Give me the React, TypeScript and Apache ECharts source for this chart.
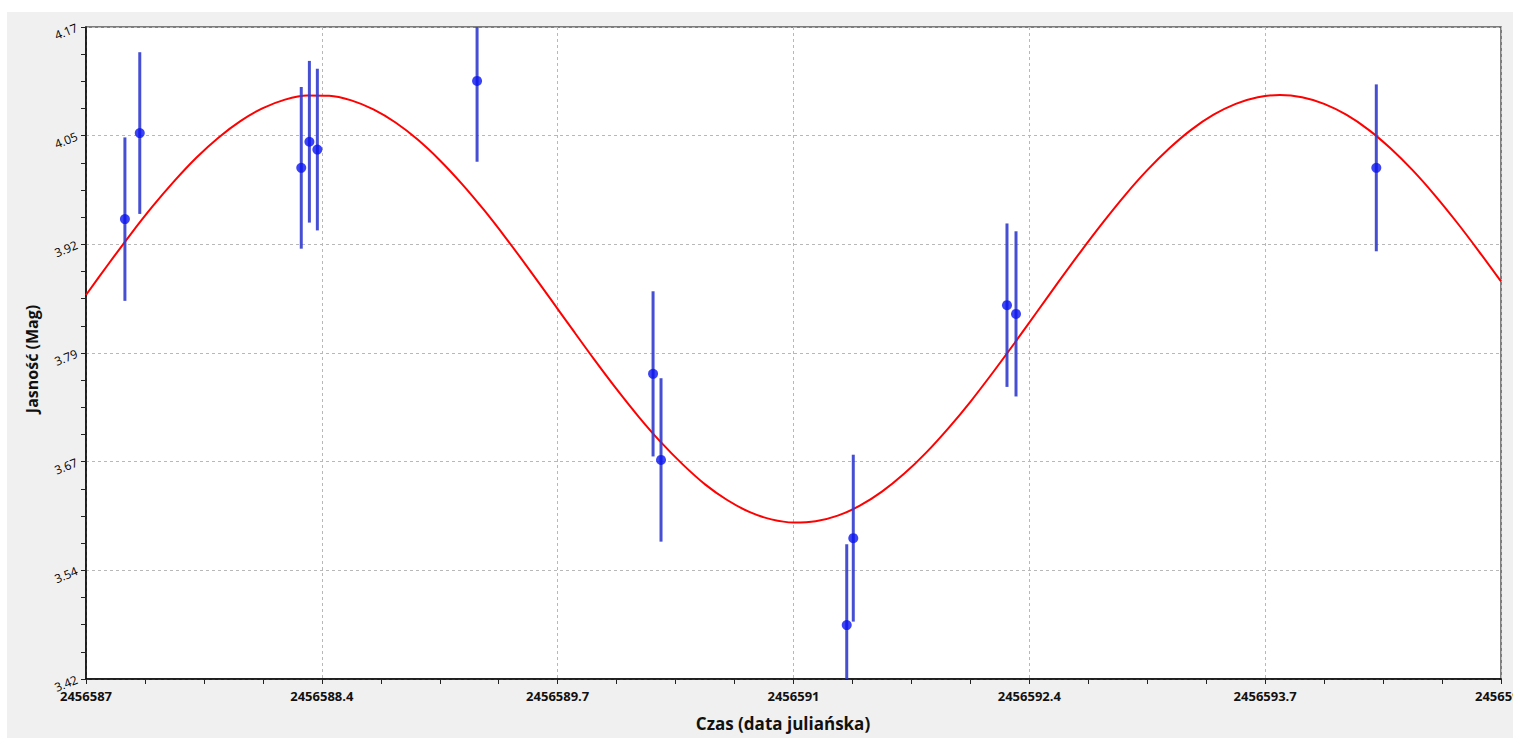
import React, { useEffect, useRef } from "react";
import * as echarts from "echarts";

// Axis ranges and tick labels
const JD_MIN = 2456587;
const JD_MAX = 2456595;
const MAG_MIN = 3.42;
const MAG_MAX = 4.17;
const X_TICK_LABELS = ["2456587", "2456588.4", "2456589.7", "2456591", "2456592.4", "2456593.7", "2456595"];
const Y_TICK_LABELS = ["3.42", "3.54", "3.67", "3.79", "3.92", "4.05", "4.17"];

// Observations (Julian date, magnitude, error)
const OBS_JD = [2456587.22, 2456587.304, 2456588.217, 2456588.263, 2456588.308, 2456589.211, 2456590.206, 2456590.251, 2456591.301, 2456591.338, 2456592.207, 2456592.258, 2456594.295];
const OBS_MAG = [3.949, 4.048, 4.008, 4.038, 4.029, 4.108, 3.771, 3.672, 3.482, 3.582, 3.85, 3.84, 4.008];
const OBS_ERR = [0.094, 0.093, 0.093, 0.093, 0.093, 0.093, 0.095, 0.094, 0.093, 0.096, 0.094, 0.095, 0.096];

// Fitted curve samples
const CURVE_JD = [
  2456587.0, 2456587.125, 2456587.25, 2456587.375, 2456587.5, 2456587.625, 2456587.75, 2456587.875,
  2456588.0, 2456588.125, 2456588.25, 2456588.375, 2456588.5, 2456588.625, 2456588.75, 2456588.875,
  2456589.0, 2456589.125, 2456589.25, 2456589.375, 2456589.5, 2456589.625, 2456589.75, 2456589.875,
  2456590.0, 2456590.125, 2456590.25, 2456590.375, 2456590.5, 2456590.625, 2456590.75, 2456590.875,
  2456591.0, 2456591.125, 2456591.25, 2456591.375, 2456591.5, 2456591.625, 2456591.75, 2456591.875,
  2456592.0, 2456592.125, 2456592.25, 2456592.375, 2456592.5, 2456592.625, 2456592.75, 2456592.875,
  2456593.0, 2456593.125, 2456593.25, 2456593.375, 2456593.5, 2456593.625, 2456593.75, 2456593.875,
  2456594.0, 2456594.125, 2456594.25, 2456594.375, 2456594.5, 2456594.625, 2456594.75, 2456594.875,
  2456595.0,
];
const CURVE_MAG = [
  3.8617, 3.8968, 3.931, 3.9633, 3.993, 4.0199, 4.043, 4.0621,
  4.0767, 4.0865, 4.0913, 4.091, 4.0856, 4.0752, 4.0601, 4.0405,
  4.0168, 3.9896, 3.9595, 3.9269, 3.8927, 3.8575, 3.8221, 3.7871,
  3.7534, 3.7216, 3.6924, 3.6666, 3.6439, 3.6259, 3.6122, 3.6036,
  3.6, 3.6014, 3.6079, 3.6193, 3.6355, 3.656, 3.6804, 3.7083,
  3.7389, 3.772, 3.8065, 3.8419, 3.8773, 3.912, 3.9453, 3.9767,
  4.0053, 4.0305, 4.052, 4.0691, 4.0816, 4.0892, 4.0918, 4.0892,
  4.0816, 4.0691, 4.052, 4.0305, 4.0053, 3.9767, 3.9454, 3.912,
  3.8773,
];

const X_STEPS = X_TICK_LABELS.length - 1;
const Y_STEPS = Y_TICK_LABELS.length - 1;
const toU = (jd: number) => ((jd - JD_MIN) / (JD_MAX - JD_MIN)) * X_STEPS;
const toV = (mag: number) => ((mag - MAG_MIN) / (MAG_MAX - MAG_MIN)) * Y_STEPS;

const FONT = "'Open Sans', 'Noto Sans', sans-serif";
const W = 1513;
const H = 738;

export default function App() {
  const ref = useRef<HTMLDivElement>(null);
  useEffect(() => {
    if (!ref.current) return;
    document.documentElement.style.overflow = "hidden";
    document.body.style.overflow = "hidden";
    document.body.style.margin = "0";
    const chart = echarts.init(ref.current, undefined, { renderer: "svg", width: W, height: H });

    const curveData = CURVE_JD.map((jd, i) => [toU(jd), toV(CURVE_MAG[i])]);
    const pointData = OBS_JD.map((jd, i) => [toU(jd), toV(OBS_MAG[i])]);
    const barData = OBS_JD.map((jd, i) => [toU(jd), toV(OBS_MAG[i] - OBS_ERR[i]), toV(OBS_MAG[i] + OBS_ERR[i])]);

    chart.setOption({
      animation: false,
      backgroundColor: "#ffffff",
      graphic: [
        {
          type: "rect",
          z: -10,
          silent: true,
          shape: { x: 7, y: 12, width: W, height: H },
          style: { fill: "#f0f0f0" },
        },
        {
          type: "text",
          x: 783,
          y: 723,
          style: {
            text: "Czas (data juliańska)",
            font: `bold 17px ${FONT}`,
            fill: "#111111",
            textAlign: "center",
            textVerticalAlign: "middle",
          },
        },
        {
          type: "text",
          x: 32,
          y: 359,
          rotation: Math.PI / 2,
          style: {
            text: "Jasność (Mag)",
            font: `bold 16px ${FONT}`,
            fill: "#111111",
            textAlign: "center",
            textVerticalAlign: "middle",
          },
        },
      ],
      grid: {
        left: 86,
        top: 27,
        right: 12,
        bottom: 59,
        containLabel: false,
        outerBoundsMode: "none",
        show: true,
        backgroundColor: "#ffffff",
        borderColor: "#555555",
        borderWidth: 1.5,
      },
      xAxis: {
        type: "value",
        min: 0,
        max: X_STEPS,
        interval: 1,
        axisLine: { show: true, onZero: false, lineStyle: { color: "#000000", width: 1.5 } },
        axisTick: { show: true, length: 5, lineStyle: { color: "#222222", width: 1 } },
        minorTick: { show: true, splitNumber: 4, length: 5, lineStyle: { color: "#222222", width: 1 } },
        splitLine: { show: true, lineStyle: { color: "#b8b8b8", type: [3, 3], width: 1 } },
        axisLabel: {
          margin: 10,
          color: "#111111",
          fontFamily: FONT,
          fontWeight: "bold",
          fontSize: 13,
          hideOverlap: false,
          formatter: (v: number) => X_TICK_LABELS[Math.round(v)] ?? "",
        },
      },
      yAxis: {
        type: "value",
        min: 0,
        max: Y_STEPS,
        interval: 1,
        axisLine: { show: true, onZero: false, lineStyle: { color: "#000000", width: 1.5 } },
        axisTick: { show: true, length: 5, lineStyle: { color: "#222222", width: 1 } },
        minorTick: { show: true, splitNumber: 4, length: 5, lineStyle: { color: "#222222", width: 1 } },
        splitLine: { show: true, lineStyle: { color: "#b8b8b8", type: [3, 3], width: 1 } },
        axisLabel: {
          margin: 9,
          rotate: 22,
          color: "#000000",
          fontFamily: FONT,
          fontSize: 12,
          formatter: (v: number) => Y_TICK_LABELS[Math.round(v)] ?? "",
        },
      },
      series: [
        {
          type: "line",
          data: curveData,
          smooth: 0.3,
          showSymbol: false,
          symbol: "none",
          lineStyle: { color: "#ff0000", width: 2 },
          z: 2,
        },
        {
          type: "custom",
          data: barData,
          z: 3,
          renderItem: (params: any, api: any) => {
            const cs = params.coordSys;
            const x = api.coord([api.value(0), api.value(1)])[0];
            let y1 = api.coord([api.value(0), api.value(1)])[1];
            let y2 = api.coord([api.value(0), api.value(2)])[1];
            const top = cs.y;
            const bottom = cs.y + cs.height;
            y1 = Math.max(top, Math.min(bottom, y1));
            y2 = Math.max(top, Math.min(bottom, y2));
            return {
              type: "line",
              shape: { x1: x, y1, x2: x, y2 },
              style: { stroke: "rgba(50,60,205,0.9)", lineWidth: 3 },
            };
          },
        },
        {
          type: "scatter",
          data: pointData,
          symbol: "circle",
          symbolSize: 10,
          itemStyle: { color: "#0a14f0" },
          z: 4,
        },
      ],
    });
    return () => chart.dispose();
  }, []);

  return (
    <div
      ref={ref}
      style={{ position: "fixed", left: 0, top: 0, width: W, height: H, overflow: "hidden" }}
    />
  );
}
